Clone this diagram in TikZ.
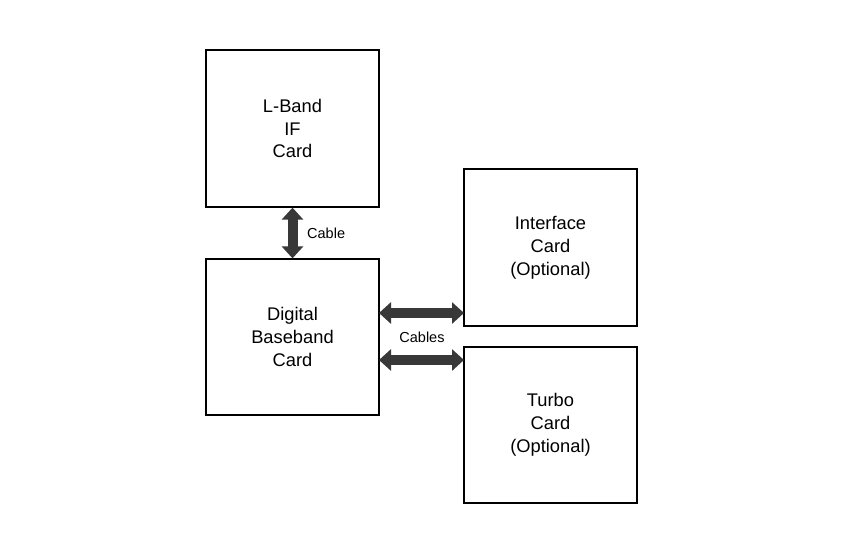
\documentclass[tikz,border=0pt]{standalone}
\usepackage{fontspec}
\setmainfont{Liberation Sans}
\usetikzlibrary{arrows.meta}
\begin{document}
\begin{tikzpicture}[x=1pt,y=-1pt,
  card/.style={draw=black,line width=1.3pt,minimum width=173pt,minimum height=157pt,
    align=center,font=\fontsize{18.3}{22.8}\selectfont,inner sep=0pt},
  link/.style={draw=black!78,line width=10pt,
    {Triangle[width=21pt,length=12pt]}-{Triangle[width=21pt,length=12pt]}},
  lbl/.style={font=\fontsize{14.5}{16}\selectfont,inner sep=0pt}]
\useasboundingbox[fill=white] (0,0) rectangle (854,554);
\node[card] (lband) at (292.5,128.5) {L-Band\\IF\\Card};
\node[card,minimum height=156pt] (dbb) at (292.5,337) {Digital\\Baseband\\Card};
\node[card] (intf) at (550.5,247.5) {Interface\\Card\\(Optional)};
\node[card,minimum height=156pt] (turbo) at (550.5,425) {Turbo\\Card\\(Optional)};
\coordinate (a1) at (379,313);
\coordinate (b1) at (464,313);
\coordinate (a2) at (379,360);
\coordinate (b2) at (464,360);
\draw[link] (lband.south) -- (dbb.north);
\draw[link] (a1) -- (b1);
\draw[link] (a2) -- (b2);
\node[lbl,anchor=west] (cable) at (307,233) {Cable};
\node[lbl] (cables) at (422,337) {Cables};
\end{tikzpicture}
\end{document}
